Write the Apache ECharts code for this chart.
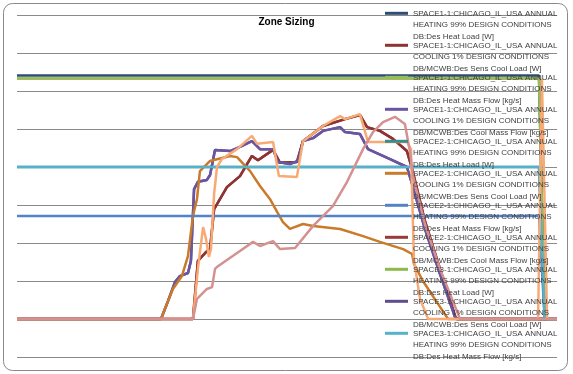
<!DOCTYPE html>
<html>
<head>
<meta charset="utf-8">
<script src="https://cdn.jsdelivr.net/npm/echarts@6/dist/echarts.min.js"></script>
<style>html,body{margin:0;padding:0;background:#fff;}#c{width:573px;height:374px;}</style>
</head>
<body>
<div id="c"></div>
<script>
// ---- data (x = hour of design day, y = value in chart units) ----
const seriesNames = [
  'SPACE1-1:CHICAGO_IL_USA ANNUAL\nHEATING 99% DESIGN CONDITIONS\nDB:Des Heat Load [W]',
  'SPACE1-1:CHICAGO_IL_USA ANNUAL\nCOOLING 1% DESIGN CONDITIONS\nDB/MCWB:Des Sens Cool Load [W]',
  'SPACE1-1:CHICAGO_IL_USA ANNUAL\nHEATING 99% DESIGN CONDITIONS\nDB:Des Heat Mass Flow [kg/s]',
  'SPACE1-1:CHICAGO_IL_USA ANNUAL\nCOOLING 1% DESIGN CONDITIONS\nDB/MCWB:Des Cool Mass Flow [kg/s]',
  'SPACE2-1:CHICAGO_IL_USA ANNUAL\nHEATING 99% DESIGN CONDITIONS\nDB:Des Heat Load [W]',
  'SPACE2-1:CHICAGO_IL_USA ANNUAL\nCOOLING 1% DESIGN CONDITIONS\nDB/MCWB:Des Sens Cool Load [W]',
  'SPACE2-1:CHICAGO_IL_USA ANNUAL\nHEATING 99% DESIGN CONDITIONS\nDB:Des Heat Mass Flow [kg/s]',
  'SPACE2-1:CHICAGO_IL_USA ANNUAL\nCOOLING 1% DESIGN CONDITIONS\nDB/MCWB:Des Cool Mass Flow [kg/s]',
  'SPACE3-1:CHICAGO_IL_USA ANNUAL\nHEATING 99% DESIGN CONDITIONS\nDB:Des Heat Load [W]',
  'SPACE3-1:CHICAGO_IL_USA ANNUAL\nCOOLING 1% DESIGN CONDITIONS\nDB/MCWB:Des Sens Cool Load [W]',
  'SPACE3-1:CHICAGO_IL_USA ANNUAL\nHEATING 99% DESIGN CONDITIONS\nDB:Des Heat Mass Flow [kg/s]',
  'Series 12',
  'Series 13'
];
const seriesColors = ['#2C4D75','#8E3331','#9BBB59','#6A56A0','#3A8C8F','#C97A2A','#5283C8','#9A3A38','#8DB84A','#5E4C8E','#56B2C8','#F8A974','#D4918F'];

const s1HeatLoad = [[0,6.41],[23.2,6.41],[23.45,0],[24,0]];
const s1HeatFlow = [[0,6.33],[23.2,6.33],[23.45,0],[24,0]];
const s2HeatLoad = [[0,4.0],[23.2,4.0],[23.45,0],[24,0]];
const s2HeatFlow = [[0,2.71],[23.2,2.71],[23.45,0],[24,0]];
const s3HeatLoad = [[0,6.33],[23.2,6.33],[23.45,0],[24,0]];
const s3HeatFlow = [[0,4.0],[23.2,4.0],[23.45,0],[24,0]];

const s1CoolFlow = [[0,0],[6.4,0],[6.71,0.47],[7.02,0.97],[7.24,1.13],[7.6,1.21],[7.73,1.53],[7.87,3.42],[8.04,3.61],[8.44,3.66],[8.58,3.79],[8.8,4.45],[9.47,4.42],[9.91,4.53],[10.44,4.68],[10.8,4.47],[11.38,4.47],[11.6,4.13],[12.13,4.08],[12.49,4.16],[12.71,4.68],[13.16,4.76],[13.6,4.95],[14.36,5.05],[14.58,4.92],[15.24,4.87],[15.6,4.47],[16.58,4.21],[17.33,4.0],[17.56,3.55],[18.13,2.37],[18.8,1.18],[19.47,0.05],[19.6,0],[24,0]];
const s1CoolLoad = [[0,0],[7.82,0],[8.04,1.53],[8.4,1.76],[8.58,1.84],[8.76,2.89],[9.33,3.47],[9.91,3.76],[10.44,4.29],[10.71,4.18],[11.38,4.45],[11.69,4.11],[12.44,4.13],[12.71,4.68],[13.6,5.08],[14.58,5.26],[15.24,5.37],[15.56,5.05],[16.13,4.95],[16.71,4.74],[17.33,4.42],[17.56,3.95],[18.13,2.58],[18.8,1.32],[19.51,0],[24,0]];
const s2CoolLoad = [[0,0],[6.4,0],[6.93,0.79],[7.33,1.13],[7.6,1.66],[7.82,2.71],[8.0,3.16],[8.13,3.89],[8.58,4.16],[9.47,4.29],[9.78,4.26],[10.36,3.89],[10.8,3.5],[11.24,3.16],[11.56,2.82],[11.82,2.55],[12.13,2.37],[12.71,2.5],[13.16,2.45],[14.36,2.37],[15.38,2.18],[16.13,2.03],[17.16,1.84],[17.56,1.71],[17.64,1.45],[18.04,1.0],[18.8,0.32],[19.16,0],[24,0]];
const s3CoolFlow = [[0,0],[7.82,0],[8.04,1.32],[8.27,2.42],[8.4,2.11],[8.53,1.63],[8.62,1.84],[8.76,3.29],[8.89,4.0],[9.11,4.21],[9.78,4.47],[10.44,4.82],[10.67,4.61],[11.38,4.66],[11.64,3.76],[12.44,3.74],[12.71,4.68],[13.6,5.08],[14.36,5.34],[14.58,5.26],[15.24,5.39],[15.6,4.66],[17.33,4.66],[17.51,4.47],[17.64,1.58],[17.91,0.53],[18.27,0],[23.16,0],[23.33,6.32],[23.56,0],[24,0]];
const s3CoolLoad = [[0,0],[7.82,0],[8.0,0.53],[8.44,0.79],[8.67,0.84],[8.8,1.32],[8.93,1.39],[9.91,1.79],[10.49,2.03],[10.8,1.92],[11.38,2.05],[11.69,1.84],[12.36,1.87],[13.16,2.45],[14.04,2.97],[14.67,3.61],[15.38,4.47],[15.82,4.92],[16.27,5.18],[16.8,5.32],[17.24,5.13],[17.47,4.39],[17.6,3.76],[18.13,2.5],[18.8,1.32],[19.69,0],[24,0]];

// series 8 and 10 lie under the visible cooling curves
const seriesData = [s1HeatLoad, s1CoolLoad, s1HeatFlow, s1CoolFlow, s2HeatLoad, s2CoolLoad, s2HeatFlow, s1CoolLoad, s3HeatLoad, s1CoolFlow, s3HeatFlow, s3CoolFlow, s3CoolLoad];
const seriesZ = [2,2,2,2,1,2,2,1,1,1,2,2,2];

const chart = echarts.init(document.getElementById('c'), null, {renderer: 'canvas'});
const lineH = 11.7;
chart.setOption({
  animation: false,
  backgroundColor: '#fff',
  title: {
    text: 'Zone Sizing', left: 'center', top: 12,
    textStyle: {fontFamily: 'Liberation Sans', fontSize: 10, fontWeight: 'bold', color: '#000'}
  },
  grid: {left: 17, right: 16, top: 15, bottom: 17},
  xAxis: {type: 'value', min: 0, max: 24, show: false},
  yAxis: {
    type: 'value', min: -1, max: 8, interval: 1,
    axisLine: {show: false}, axisTick: {show: false}, axisLabel: {show: false},
    splitLine: {show: true, lineStyle: {color: '#8a8a8a', width: 1}}
  },
  legend: {
    orient: 'vertical', left: 385, top: 13.3 - 2.5 * lineH, padding: 0,
    itemWidth: 23, itemHeight: 3, itemGap: 32 - 5 * lineH, icon: 'rect',
    data: seriesNames.slice(0, 11),
    selectedMode: false,
    formatter: (name) => ' \n \n' + name,
    textStyle: {fontFamily: 'Liberation Sans', fontSize: 8, color: '#404040', lineHeight: lineH}
  },
  graphic: [{
    type: 'rect', silent: true, z: 100,
    shape: {x: 3.5, y: 3.5, width: 564, height: 367, r: 9},
    style: {fill: 'none', stroke: '#8a8a8a', lineWidth: 1}
  }],
  series: seriesNames.map((n, i) => ({
    name: n, type: 'line', data: seriesData[i], z: seriesZ[i],
    showSymbol: false, symbol: 'none', smooth: false,
    lineStyle: {color: seriesColors[i], width: 2.5},
    itemStyle: {color: seriesColors[i]}
  }))
});
</script>
</body>
</html>
